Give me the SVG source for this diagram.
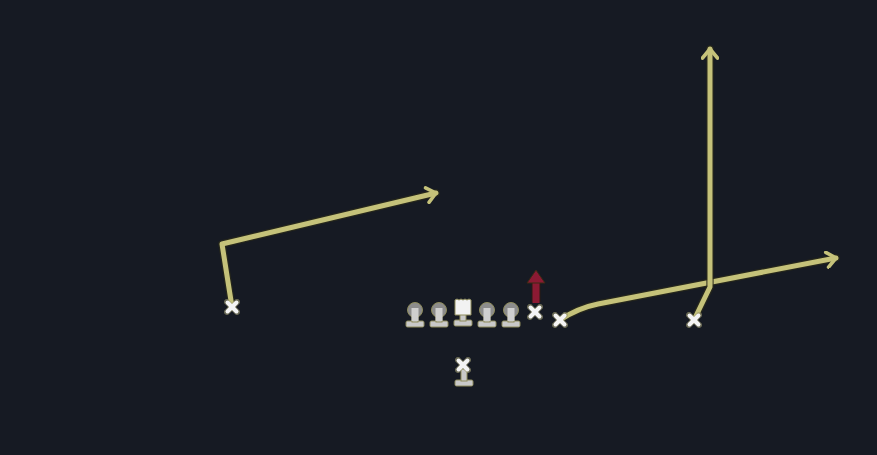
<svg xmlns="http://www.w3.org/2000/svg" width="877" height="455" viewBox="0 0 877 455">
<style>
.route{fill:none;stroke:#c5c27a;stroke-width:5;stroke-linecap:round;stroke-linejoin:round}
.shadow{fill:none;stroke:#2a2a1a;stroke-width:7.5;stroke-linecap:round;stroke-linejoin:round;opacity:0.8}
.x{stroke:#f4f4f4;stroke-width:4;stroke-linecap:round}
.xo{stroke:#9a9870;stroke-width:6;stroke-linecap:round;opacity:0.6}
.body{fill:#c9c9c9;stroke:#8f8c5c;stroke-width:1}
.head{fill:#8c8c8c;stroke:#8f8c5c;stroke-width:1}
</style>
<defs>
<marker id="arr" viewBox="0 0 12 12" refX="8" refY="6" markerWidth="3.6" markerHeight="3.6" orient="auto" markerUnits="strokeWidth">
<polyline points="2,1 8,6 2,11" fill="none" stroke="#c5c27a" stroke-width="2.4" stroke-linecap="round" stroke-linejoin="round"/>
</marker>
<g id="xmark">
<line class="xo" x1="-5" y1="-5" x2="5" y2="5"/><line class="xo" x1="5" y1="-5" x2="-5" y2="5"/>
<line class="x" x1="-4.5" y1="-4.5" x2="4.5" y2="4.5"/><line class="x" x1="4.5" y1="-4.5" x2="-4.5" y2="4.5"/>
</g>
<g id="lineman">
<rect class="body" x="-9" y="11" width="18" height="6" rx="1.5"/>
<rect class="body" x="-3" y="3" width="6" height="9"/>
<circle class="head" cx="0" cy="0" r="7.5"/>
<rect x="-3.5" y="-2" width="7" height="13" fill="#cfcfcf"/>
</g>
</defs>
<rect width="877" height="455" fill="#161a23"/>
<g id="connectors">
<polyline class="shadow" points="232,307 222,244 436,193"/>
<polyline class="route" points="232,307 222,244 436,193" marker-end="url(#arr)"/>
<path class="shadow" d="M560,320 Q578,308 598,304 L836,258"/>
<path class="route" d="M560,320 Q578,308 598,304 L836,258" marker-end="url(#arr)"/>
<polyline class="shadow" points="694,320 710,287 710,49"/>
<polyline class="route" points="694,320 710,287 710,49" marker-end="url(#arr)"/>
<line x1="536" y1="302" x2="536" y2="282" stroke="#2a1a14" stroke-width="9"/>
<line x1="536" y1="303" x2="536" y2="282" stroke="#8c1a33" stroke-width="7"/>
<polygon points="527,283 536,270 545,283" fill="#8c1a33" stroke="#3a2a14" stroke-width="1"/>
</g>
<g id="wr-left"><use href="#xmark" x="232" y="307"/></g>
<g id="lt"><use href="#lineman" x="415" y="310"/></g>
<g id="lg"><use href="#lineman" x="439" y="310"/></g>
<g id="c">
<rect class="body" x="454" y="320" width="18" height="6" rx="1.5"/>
<rect class="body" x="460" y="314" width="6" height="7"/>
<path d="M455,300 l2,-1 l2,1 l2,-1 l2,1 l2,-1 l2,1 l2,-1 l2,1 V315 H455 Z" fill="#f2f2f2" stroke="#8f8c5c" stroke-width="1"/>
</g>
<g id="rg"><use href="#lineman" x="487" y="310"/></g>
<g id="rt"><use href="#lineman" x="511" y="310"/></g>
<g id="te"><use href="#xmark" x="535" y="312"/></g>
<g id="slot"><use href="#xmark" x="560" y="320"/></g>
<g id="wr-right"><use href="#xmark" x="694" y="320"/></g>
<g id="qb">
<rect class="body" x="455" y="380" width="18" height="6" rx="1.5"/>
<rect class="body" x="461" y="369" width="6" height="12"/>
<use href="#xmark" x="463" y="365"/>
</g>
</svg>
